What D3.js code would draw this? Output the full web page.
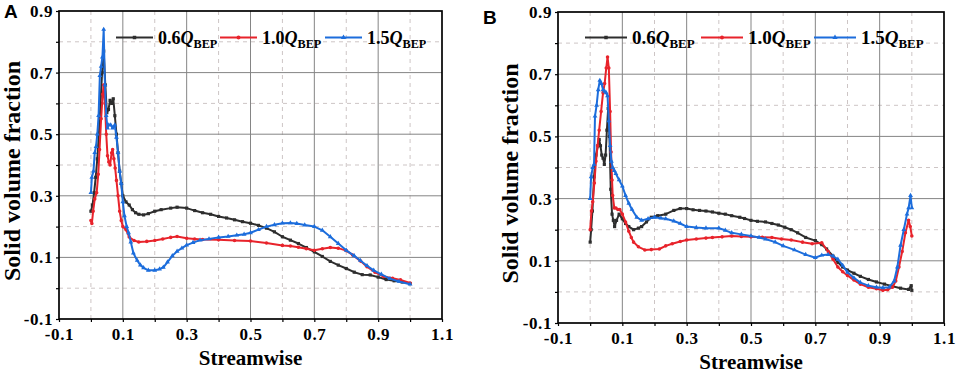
<!DOCTYPE html>
<html>
<head>
<meta charset="utf-8">
<script src="https://cdn.jsdelivr.net/npm/d3@7"></script>
<style>
  body { margin: 0; background: #fff; }
  svg { display: block; }
</style>
</head>
<body>
<svg id="chart" width="962" height="378"></svg>
<script>
// Panel A: [streamwise, solid volume fraction]
const A_06 = [[0,0.25],[0.005,0.27],[0.01,0.31],[0.015,0.36],[0.02,0.42],[0.025,0.5],[0.03,0.6],[0.035,0.7],[0.04,0.77],[0.045,0.66],[0.05,0.57],[0.055,0.58],[0.06,0.61],[0.065,0.6],[0.07,0.615],[0.075,0.56],[0.08,0.5],[0.085,0.44],[0.09,0.38],[0.095,0.34],[0.1,0.3],[0.11,0.28],[0.12,0.27],[0.13,0.255],[0.14,0.245],[0.15,0.24],[0.165,0.238],[0.18,0.242],[0.2,0.25],[0.22,0.255],[0.25,0.26],[0.27,0.263],[0.3,0.26],[0.325,0.252],[0.35,0.245],[0.375,0.24],[0.4,0.233],[0.425,0.228],[0.45,0.222],[0.475,0.216],[0.5,0.211],[0.525,0.204],[0.55,0.195],[0.575,0.183],[0.6,0.167],[0.625,0.156],[0.65,0.145],[0.675,0.132],[0.7,0.118],[0.725,0.103],[0.75,0.087],[0.775,0.075],[0.8,0.064],[0.825,0.052],[0.85,0.044],[0.875,0.043],[0.9,0.036],[0.925,0.028],[0.95,0.024],[0.975,0.02],[1.0,0.015]];
const A_10 = [[0,0.22],[0.003,0.21],[0.007,0.25],[0.012,0.29],[0.018,0.31],[0.023,0.37],[0.027,0.45],[0.032,0.55],[0.037,0.63],[0.04,0.66],[0.044,0.6],[0.048,0.5],[0.052,0.43],[0.056,0.41],[0.06,0.4],[0.065,0.44],[0.068,0.45],[0.072,0.42],[0.076,0.39],[0.08,0.35],[0.085,0.3],[0.09,0.25],[0.095,0.22],[0.1,0.2],[0.11,0.19],[0.12,0.166],[0.135,0.155],[0.15,0.15],[0.175,0.152],[0.2,0.155],[0.225,0.16],[0.25,0.165],[0.27,0.168],[0.3,0.162],[0.325,0.16],[0.35,0.158],[0.4,0.157],[0.45,0.155],[0.5,0.153],[0.55,0.147],[0.6,0.139],[0.625,0.137],[0.65,0.133],[0.675,0.128],[0.7,0.123],[0.725,0.128],[0.75,0.132],[0.775,0.13],[0.8,0.122],[0.82,0.108],[0.845,0.088],[0.865,0.07],[0.89,0.052],[0.917,0.038],[0.945,0.032],[0.97,0.027],[1.0,0.017]];
const A_15 = [[0,0.31],[0.003,0.36],[0.008,0.38],[0.012,0.44],[0.016,0.46],[0.02,0.5],[0.024,0.56],[0.028,0.69],[0.032,0.72],[0.036,0.75],[0.04,0.84],[0.044,0.66],[0.048,0.56],[0.052,0.52],[0.056,0.53],[0.062,0.53],[0.068,0.52],[0.075,0.53],[0.08,0.49],[0.085,0.44],[0.09,0.38],[0.095,0.34],[0.1,0.28],[0.105,0.235],[0.112,0.2],[0.118,0.18],[0.125,0.15],[0.133,0.114],[0.145,0.09],[0.155,0.075],[0.165,0.066],[0.18,0.058],[0.2,0.058],[0.215,0.062],[0.227,0.068],[0.24,0.085],[0.255,0.105],[0.27,0.12],[0.285,0.13],[0.3,0.14],[0.32,0.148],[0.342,0.156],[0.37,0.16],[0.4,0.165],[0.43,0.168],[0.457,0.172],[0.48,0.175],[0.5,0.18],[0.525,0.19],[0.55,0.2],[0.575,0.206],[0.6,0.211],[0.625,0.212],[0.645,0.21],[0.67,0.205],[0.7,0.2],[0.725,0.188],[0.75,0.167],[0.775,0.145],[0.8,0.123],[0.825,0.105],[0.844,0.09],[0.865,0.073],[0.886,0.058],[0.91,0.045],[0.937,0.031],[0.965,0.022],[1.0,0.013]];

// Panel B
const B_06 = [[0,0.16],[0.003,0.2],[0.007,0.26],[0.012,0.37],[0.018,0.44],[0.024,0.47],[0.028,0.49],[0.032,0.47],[0.036,0.44],[0.04,0.43],[0.044,0.41],[0.048,0.44],[0.052,0.52],[0.056,0.59],[0.06,0.5],[0.064,0.33],[0.068,0.25],[0.072,0.23],[0.076,0.21],[0.082,0.23],[0.09,0.25],[0.1,0.235],[0.11,0.22],[0.12,0.21],[0.135,0.2],[0.15,0.205],[0.16,0.21],[0.175,0.225],[0.19,0.24],[0.21,0.245],[0.235,0.25],[0.26,0.262],[0.28,0.268],[0.3,0.268],[0.32,0.264],[0.34,0.262],[0.36,0.26],[0.38,0.257],[0.4,0.253],[0.42,0.25],[0.44,0.245],[0.465,0.24],[0.48,0.236],[0.5,0.23],[0.52,0.227],[0.545,0.225],[0.565,0.22],[0.585,0.215],[0.605,0.208],[0.625,0.2],[0.645,0.19],[0.67,0.175],[0.7,0.165],[0.72,0.152],[0.735,0.138],[0.755,0.115],[0.77,0.095],[0.785,0.08],[0.8,0.07],[0.82,0.06],[0.84,0.05],[0.865,0.04],[0.89,0.032],[0.915,0.025],[0.94,0.018],[0.965,0.012],[0.99,0.008],[0.998,0.02],[1.0,0.005]];
const B_10 = [[0,0.2],[0.004,0.26],[0.008,0.29],[0.013,0.35],[0.018,0.42],[0.023,0.47],[0.028,0.52],[0.034,0.58],[0.04,0.64],[0.045,0.67],[0.05,0.72],[0.054,0.755],[0.058,0.72],[0.062,0.58],[0.065,0.45],[0.068,0.36],[0.07,0.31],[0.075,0.27],[0.08,0.27],[0.086,0.265],[0.092,0.265],[0.1,0.25],[0.11,0.225],[0.12,0.195],[0.128,0.175],[0.135,0.16],[0.15,0.145],[0.17,0.135],[0.19,0.136],[0.215,0.138],[0.235,0.148],[0.255,0.155],[0.28,0.162],[0.3,0.167],[0.33,0.17],[0.36,0.173],[0.38,0.175],[0.41,0.177],[0.44,0.18],[0.47,0.178],[0.5,0.177],[0.535,0.176],[0.565,0.175],[0.595,0.17],[0.625,0.167],[0.66,0.16],[0.69,0.155],[0.72,0.158],[0.74,0.13],[0.755,0.105],[0.77,0.08],[0.785,0.065],[0.8,0.053],[0.82,0.038],[0.84,0.025],[0.865,0.015],[0.89,0.01],[0.91,0.005],[0.925,0.007],[0.94,0.015],[0.95,0.035],[0.96,0.08],[0.97,0.13],[0.98,0.19],[0.99,0.23],[0.995,0.21],[1.0,0.18]];
const B_15 = [[0,0.3],[0.003,0.37],[0.008,0.4],[0.012,0.41],[0.015,0.565],[0.02,0.6],[0.025,0.65],[0.03,0.68],[0.035,0.67],[0.04,0.65],[0.045,0.645],[0.05,0.64],[0.054,0.63],[0.058,0.55],[0.062,0.47],[0.066,0.42],[0.07,0.4],[0.075,0.39],[0.08,0.38],[0.09,0.36],[0.1,0.34],[0.11,0.31],[0.12,0.285],[0.13,0.265],[0.145,0.24],[0.16,0.23],[0.18,0.235],[0.2,0.24],[0.22,0.237],[0.235,0.235],[0.26,0.228],[0.28,0.22],[0.3,0.21],[0.33,0.207],[0.36,0.205],[0.4,0.205],[0.42,0.198],[0.44,0.19],[0.47,0.185],[0.5,0.18],[0.525,0.175],[0.545,0.17],[0.575,0.16],[0.6,0.148],[0.635,0.135],[0.67,0.12],[0.7,0.11],[0.72,0.118],[0.74,0.12],[0.755,0.115],[0.77,0.105],[0.785,0.085],[0.8,0.063],[0.82,0.045],[0.84,0.03],[0.865,0.02],[0.89,0.015],[0.91,0.013],[0.93,0.015],[0.945,0.035],[0.955,0.08],[0.965,0.15],[0.975,0.2],[0.985,0.25],[0.99,0.27],[0.996,0.31],[1.0,0.27]];

const xMajor = [-0.1, 0.1, 0.3, 0.5, 0.7, 0.9, 1.1];
const yMajor = [-0.1, 0.1, 0.3, 0.5, 0.7, 0.9];
const xMinor = [0, 0.2, 0.4, 0.6, 0.8, 1.0];
const yMinor = [0, 0.2, 0.4, 0.6, 0.8];
const seriesLabels = ['0.6', '1.0', '1.5'];
const seriesColors = ['#2e2e2e', '#e8232b', '#1c6ddc'];
const seriesShapes = [d3.symbolSquare, d3.symbolCircle, d3.symbolTriangle];

const SERIF = '"Times New Roman", "Liberation Serif", serif';

const panels = [
  { letter: 'A', letterPos: [4, 18], box: { l: 59, t: 11, r: 442, b: 319 },
    series: [A_06, A_10, A_15], legendX: [116, 220, 325], legendLen: 37, legendFs: 18,
    yLabelX: 12, xLabelY: 365 },
  { letter: 'B', letterPos: [483, 24], box: { l: 558, t: 12, r: 944, b: 323 },
    series: [B_06, B_10, B_15], legendX: [585, 701, 814], legendLen: 42, legendFs: 19,
    yLabelX: 510, xLabelY: 369 }
];

const svg = d3.select('#chart');
const fmt = d => (Math.round(d * 10) / 10).toFixed(1);

panels.forEach(p => {
  const { l, t, r, b } = p.box;
  const x = d3.scaleLinear().domain([-0.1, 1.1]).range([l, r]);
  const y = d3.scaleLinear().domain([-0.1, 0.9]).range([b, t]);
  const g = svg.append('g');

  // dashed minor grid
  g.selectAll('.vminor').data(xMinor).join('line')
    .attr('x1', d => x(d)).attr('x2', d => x(d)).attr('y1', t).attr('y2', b)
    .attr('stroke', '#cdc5c5').attr('stroke-dasharray', '4,4');
  g.selectAll('.hminor').data(yMinor).join('line')
    .attr('y1', d => y(d)).attr('y2', d => y(d)).attr('x1', l).attr('x2', r)
    .attr('stroke', '#cdc5c5').attr('stroke-dasharray', '4,4');

  // solid major grid
  g.selectAll('.vmajor').data(xMajor.slice(1, -1)).join('line')
    .attr('x1', d => x(d)).attr('x2', d => x(d)).attr('y1', t).attr('y2', b)
    .attr('stroke', '#858585').attr('stroke-width', 1);
  g.selectAll('.hmajor').data(yMajor.slice(1, -1)).join('line')
    .attr('y1', d => y(d)).attr('y2', d => y(d)).attr('x1', l).attr('x2', r)
    .attr('stroke', '#858585').attr('stroke-width', 1);

  // axes
  const allX = xMajor.concat(xMinor).sort((a, c) => a - c);
  const allY = yMajor.concat(yMinor).sort((a, c) => a - c);
  const isMajor = (arr, d) => arr.some(v => Math.abs(v - d) < 1e-9);

  g.append('g').attr('transform', `translate(0,${b})`)
    .call(d3.axisBottom(x).tickValues(allX).tickSize(3).tickPadding(6)
      .tickFormat(d => isMajor(xMajor, d) ? fmt(d) : ''))
    .call(a => a.select('.domain').remove())
    .call(a => a.selectAll('.tick line').attr('stroke', '#000').attr('stroke-width', 1.2))
    .call(a => a.selectAll('.tick text').attr('fill', '#000').attr('font-family', SERIF)
      .attr('font-weight', 'bold').attr('font-size', '17px').attr('letter-spacing', '0.6px'));

  g.append('g').attr('transform', `translate(${l},0)`)
    .call(d3.axisLeft(y).tickValues(allY).tickSize(3).tickPadding(3)
      .tickFormat(d => isMajor(yMajor, d) ? fmt(d) : ''))
    .call(a => a.select('.domain').remove())
    .call(a => a.selectAll('.tick line').attr('stroke', '#000').attr('stroke-width', 1.2))
    .call(a => a.selectAll('.tick text').attr('fill', '#000').attr('font-family', SERIF)
      .attr('font-weight', 'bold').attr('font-size', '17px').attr('letter-spacing', '0.6px'));

  // frame
  g.append('rect').attr('x', l).attr('y', t).attr('width', r - l).attr('height', b - t)
    .attr('fill', 'none').attr('stroke', '#000').attr('stroke-width', 1.7);

  // series
  const line = d3.line().x(d => x(d[0])).y(d => y(d[1]));
  p.series.forEach((s, i) => {
    g.append('path').datum(s).attr('d', line)
      .attr('fill', 'none').attr('stroke', seriesColors[i]).attr('stroke-width', 2)
      .attr('stroke-linejoin', 'round');
    g.selectAll(null).data(s).join('path')
      .attr('transform', d => `translate(${x(d[0])},${y(d[1])})`)
      .attr('d', d3.symbol(seriesShapes[i], 10))
      .attr('fill', seriesColors[i]);
  });

  // legend
  const ly = 37.5;
  p.legendX.forEach((lx, i) => {
    g.append('line').attr('x1', lx).attr('x2', lx + p.legendLen).attr('y1', ly).attr('y2', ly)
      .attr('stroke', seriesColors[i]).attr('stroke-width', 2);
    g.append('path').attr('transform', `translate(${lx + p.legendLen / 2},${ly})`)
      .attr('d', d3.symbol(seriesShapes[i], 12)).attr('fill', seriesColors[i]);
    const txt = g.append('text').attr('x', lx + p.legendLen + 5).attr('y', ly + 6)
      .attr('font-family', SERIF).attr('font-weight', 'bold').attr('font-size', p.legendFs + 'px')
      .attr('fill', '#000');
    txt.append('tspan').text(seriesLabels[i]);
    txt.append('tspan').attr('font-style', 'italic').text('Q');
    txt.append('tspan').attr('font-size', (p.legendFs * 0.68) + 'px').attr('dy', 4).text('BEP');
  });

  // axis titles
  g.append('text').attr('transform', `translate(${p.yLabelX},${(t + b) / 2 + 6}) rotate(-90)`)
    .attr('text-anchor', 'middle').attr('dy', '0.35em')
    .attr('font-family', SERIF).attr('font-weight', 'bold').attr('font-size', '24px')
    .text('Solid volume fraction');
  g.append('text').attr('x', (l + r) / 2).attr('y', p.xLabelY)
    .attr('text-anchor', 'middle')
    .attr('font-family', SERIF).attr('font-weight', 'bold').attr('font-size', '21px')
    .text('Streamwise');

  // panel letter
  g.append('text').attr('x', p.letterPos[0]).attr('y', p.letterPos[1])
    .attr('font-family', 'Arial, "Liberation Sans", sans-serif').attr('font-weight', 'bold')
    .attr('font-size', '19px').text(p.letter);
});
</script>
</body>
</html>
